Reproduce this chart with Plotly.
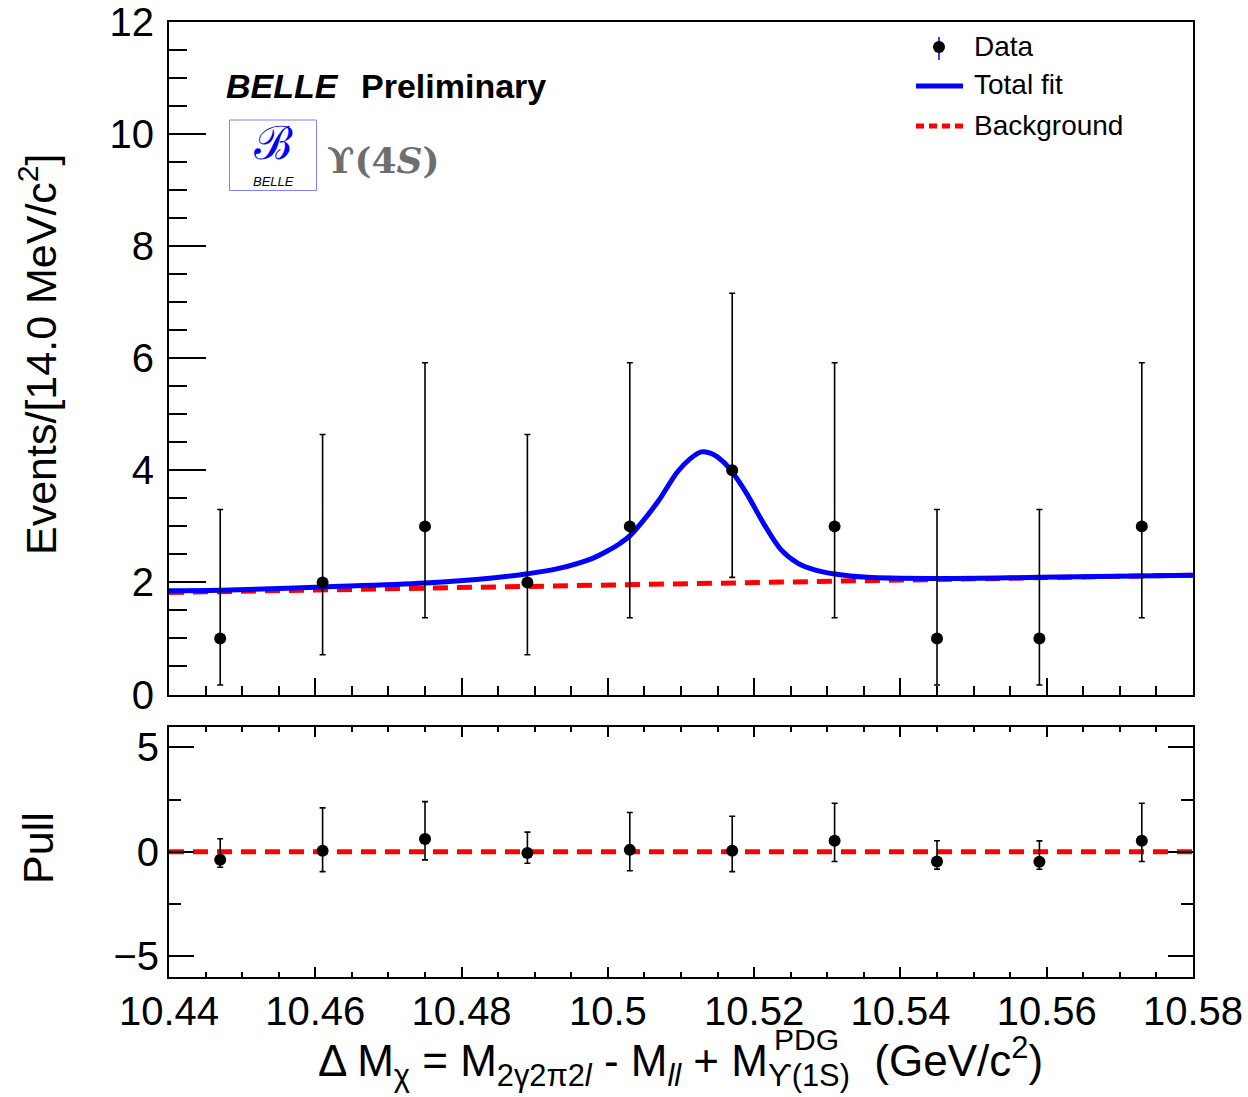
import plotly.graph_objects as go

# ---------------- data ----------------
bin_centers = [10.447, 10.461, 10.475, 10.489, 10.503, 10.517, 10.531, 10.545, 10.559, 10.573]
events = [1, 2, 3, 2, 3, 4, 3, 1, 1, 3]
events_err_up = [2.30, 2.64, 2.92, 2.64, 2.92, 3.16, 2.92, 2.30, 2.30, 2.92]
events_err_lo = [0.83, 1.29, 1.63, 1.29, 1.63, 1.91, 1.63, 0.83, 0.83, 1.63]

fit_x = [10.440, 10.447, 10.461, 10.475, 10.4842, 10.4888, 10.4933, 10.4979, 10.5002,
         10.5017, 10.503, 10.5047, 10.507, 10.5095, 10.5112, 10.5128, 10.5145, 10.5158,
         10.517, 10.519, 10.5213, 10.5237, 10.526, 10.5284, 10.531, 10.5355, 10.545,
         10.559, 10.580]
fit_y = [1.85, 1.86, 1.92, 1.99, 2.08, 2.15, 2.25, 2.43, 2.58,
         2.70, 2.83, 3.08, 3.47, 3.97, 4.20, 4.33, 4.28, 4.15,
         3.97, 3.58, 3.05, 2.58, 2.34, 2.22, 2.15, 2.09, 2.07,
         2.09, 2.13]

bkg_x = [10.44, 10.58]
bkg_y = [1.82, 2.13]

pull = [-0.38, 0.05, 0.61, -0.06, 0.09, 0.05, 0.53, -0.47, -0.48, 0.53]
pull_err_up = [1.00, 2.05, 1.79, 1.00, 1.79, 1.65, 1.79, 1.00, 1.00, 1.79]
pull_err_lo = [0.36, 1.00, 1.00, 0.49, 1.00, 1.00, 1.00, 0.36, 0.36, 1.00]
pull_ref_x = [10.44, 10.58]
pull_ref_y = [0, 0]

x_tick_vals = [10.44, 10.46, 10.48, 10.50, 10.52, 10.54, 10.56, 10.58]
x_tick_text = ["10.44", "10.46", "10.48", "10.5", "10.52", "10.54", "10.56", "10.58"]

# ---------------- geometry helpers ----------------
W, H = 1248, 1097
L, R, T, B = 169, 1193, 22, 977


def px(x):
    return (x - L) / (R - L)


def py(y):
    return (B - y) / (B - T)


FONT = "Liberation Sans, Arial, Helvetica, sans-serif"

fig = go.Figure()

# main panel
fig.add_trace(go.Scatter(x=bkg_x, y=bkg_y, mode="lines", name="Background",
                         line=dict(color="#ff0000", width=5, dash="15px,9px"),
                         xaxis="x", yaxis="y", showlegend=False))
fig.add_trace(go.Scatter(x=fit_x, y=fit_y, mode="lines", name="Total fit",
                         line=dict(color="#0000ff", width=5, shape="spline", smoothing=1.0),
                         xaxis="x", yaxis="y", showlegend=False))
fig.add_trace(go.Scatter(x=bin_centers, y=events, mode="markers", name="Data",
                         marker=dict(color="black", size=12),
                         error_y=dict(type="data", symmetric=False, array=events_err_up,
                                      arrayminus=events_err_lo, color="black",
                                      thickness=1.6, width=3),
                         xaxis="x", yaxis="y", showlegend=False))

# pull panel
fig.add_trace(go.Scatter(x=pull_ref_x, y=pull_ref_y, mode="lines", name="Pull reference",
                         line=dict(color="#ff0000", width=5, dash="15px,9px"),
                         xaxis="x2", yaxis="y2", showlegend=False))
fig.add_trace(go.Scatter(x=bin_centers, y=pull, mode="markers", name="Pull",
                         marker=dict(color="black", size=12),
                         error_y=dict(type="data", symmetric=False, array=pull_err_up,
                                      arrayminus=pull_err_lo, color="black",
                                      thickness=1.6, width=3),
                         xaxis="x2", yaxis="y2", showlegend=False))

main_bottom = py(694.5)
pull_top = py(726.5)

axis_common = dict(showgrid=False, zeroline=False, linecolor="black", linewidth=2,
                   ticks="inside", tickcolor="black", tickwidth=2, automargin=False,
                   tickfont=dict(family=FONT, size=40, color="black"))

fig.update_layout(
    width=W, height=H,
    margin=dict(l=L, r=W - R, t=T, b=H - B, pad=0, autoexpand=False),
    paper_bgcolor="white", plot_bgcolor="white",
    showlegend=False,
    xaxis=dict(axis_common, domain=[0, 1], anchor="y", range=[10.44, 10.58],
               tickmode="array", tickvals=x_tick_vals, ticktext=x_tick_text,
               showticklabels=False, ticklen=17, mirror=True,
               minor=dict(ticks="inside", ticklen=9, tickwidth=2, tickcolor="black",
                          dtick=0.005, tick0=10.44)),
    yaxis=dict(axis_common, domain=[main_bottom, 1], anchor="x", range=[0, 12],
               dtick=2, tick0=0, ticklen=37, mirror=True, ticklabelstandoff=5,
               minor=dict(ticks="inside", ticklen=18, tickwidth=2, tickcolor="black",
                          dtick=0.5, tick0=0)),
    xaxis2=dict(axis_common, domain=[0, 1], anchor="y2", range=[10.44, 10.58],
                tickmode="array", tickvals=x_tick_vals, ticktext=x_tick_text,
                ticklen=10, mirror="allticks", ticklabelstandoff=-2,
                minor=dict(ticks="inside", ticklen=5, tickwidth=2, tickcolor="black",
                           dtick=0.005, tick0=10.44)),
    yaxis2=dict(axis_common, domain=[0, pull_top], anchor="x2", range=[-6, 6],
                dtick=5, tick0=0, ticklen=25, mirror="allticks", ticklabelstandoff=0,
                minor=dict(ticks="inside", ticklen=12, tickwidth=2, tickcolor="black",
                           dtick=2.5, tick0=0)),
)

ann = []


def add_text(text, x, y, size, xanchor="left", yanchor="middle", color="black",
             family=FONT, angle=0):
    ann.append(dict(text=text, xref="paper", yref="paper", x=px(x), y=py(y),
                    xanchor=xanchor, yanchor=yanchor, showarrow=False,
                    textangle=angle, font=dict(family=family, size=size, color=color)))


# axis titles
add_text("Events/[14.0 MeV/c<sup>2</sup>]", 38, 354, 43, xanchor="center", angle=-90)
add_text("Pull", 38, 848, 43, xanchor="center", angle=-90)
add_text("Δ M<sub>χ</sub> = M<sub>2γ2π2<i>l</i></sub> - M<sub><i>ll</i></sub> + "
         "M<sub>ϒ(1S)</sub>  (GeV/c<sup>2</sup>)", 680, 1061, 44, xanchor="center")
add_text("PDG", 806, 1039, 30, xanchor="center")

# labels
add_text("<b><i>BELLE</i></b>", 224, 86, 34)
add_text("<b>Preliminary</b>", 359, 86, 34)
add_text("ℬ", 273, 143, 46, xanchor="center", color="#0000ff", family="DejaVu Serif")
add_text("<i>BELLE</i>", 273, 182, 13, xanchor="center")
add_text("<b>ϒ(4<i>S</i>)</b>", 383, 160, 36, xanchor="center", color="#6e6e6e",
         family="DejaVu Serif")

# legend texts
add_text("Data", 972, 47, 28)
add_text("Total fit", 972, 85, 28)
add_text("Background", 972, 125, 28)

shapes = [
    dict(type="rect", xref="paper", yref="paper", x0=px(229.5), x1=px(316.5),
         y0=py(190.5), y1=py(120), line=dict(color="#8080ff", width=1)),
    dict(type="line", xref="paper", yref="paper", x0=px(939), x1=px(939),
         y0=py(37), y1=py(60), line=dict(color="#0000ff", width=1.5)),
    dict(type="circle", xref="paper", yref="paper", xsizemode="pixel", ysizemode="pixel",
         xanchor=px(939), yanchor=py(47), x0=-6, x1=6, y0=-6, y1=6,
         fillcolor="black", line=dict(color="black", width=0)),
    dict(type="line", xref="paper", yref="paper", x0=px(916), x1=px(963),
         y0=py(86), y1=py(86), line=dict(color="#0000ff", width=5)),
    dict(type="line", xref="paper", yref="paper", x0=px(916), x1=px(963),
         y0=py(126), y1=py(126), line=dict(color="#ff0000", width=5, dash="8px,5px")),
]

fig.update_layout(annotations=ann, shapes=shapes)

fig.write_html("out.html")
